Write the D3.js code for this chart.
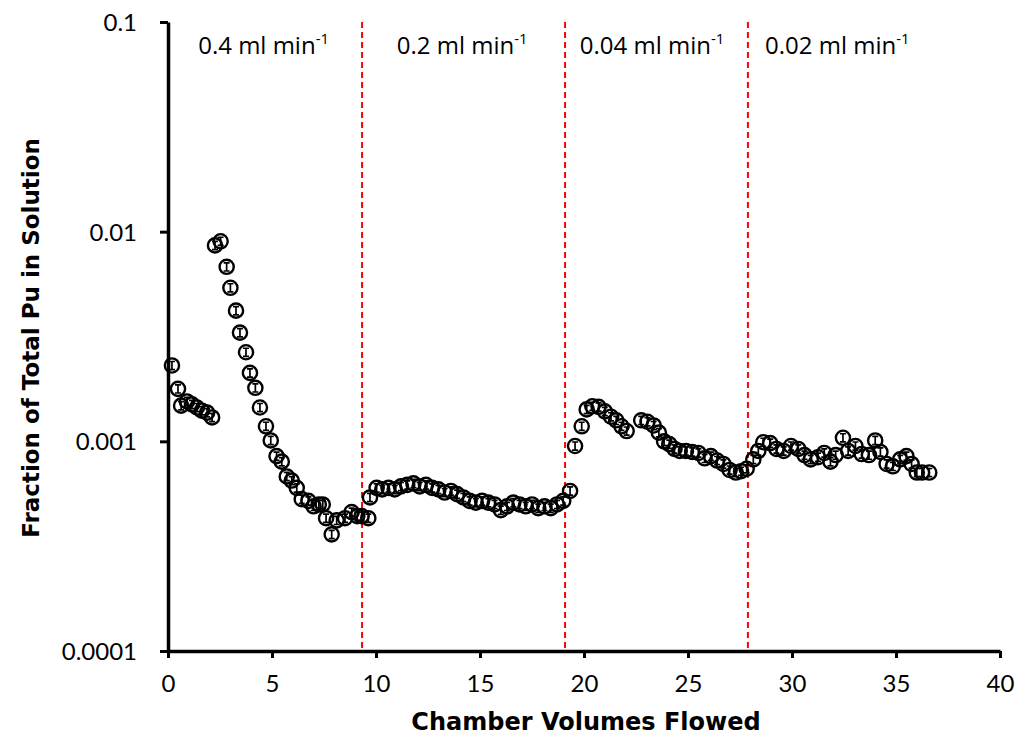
<!DOCTYPE html>
<html>
<head>
<meta charset="utf-8">
<script src="https://cdn.jsdelivr.net/npm/d3@7"></script>
<style>
	body { margin: 0; background: #fff; }
	text { fill: #000; }
</style>
</head>
<body>
<script>
// Chamber volumes flowed (x) and fraction of total Pu in solution (y)
var volumes = [
	0.19, 0.48, 0.63, 0.91, 1.15, 1.39, 1.63, 1.88, 2.12,
	2.26, 2.53, 2.82, 3.0, 3.27, 3.46, 3.75, 3.94, 4.2, 4.42, 4.71, 4.94, 5.22, 5.47, 5.71, 5.95,
	6.19, 6.43, 6.75, 7.0, 7.25, 7.44, 7.6, 7.87, 8.11, 8.51, 8.83, 9.1, 9.31, 9.63,
	9.71, 10.03, 10.3, 10.6, 10.9, 11.2, 11.5, 11.8, 12.1, 12.4, 12.7, 13.0, 13.3, 13.6, 13.9,
	14.2, 14.5, 14.8, 15.1, 15.4, 15.7, 16.0, 16.3, 16.6, 16.9, 17.2, 17.5, 17.8, 18.1, 18.4,
	18.7, 19.0, 19.33,
	19.57, 19.89, 20.13, 20.4, 20.7, 21.0, 21.3, 21.55, 21.8, 22.05,
	22.75, 23.05, 23.35, 23.6, 23.85, 24.1, 24.35, 24.6, 24.9, 25.2, 25.5, 25.8, 26.1, 26.4,
	26.7, 27.0, 27.3, 27.55, 27.82, 28.14, 28.38, 28.62, 28.95, 29.25, 29.6, 29.95, 30.3,
	30.6, 30.9, 31.25, 31.55, 31.85, 32.1, 32.45, 32.7, 33.05, 33.35, 33.7, 34.0, 34.25,
	34.55, 34.85, 35.2, 35.5, 35.75, 36.0, 36.25, 36.6
];
var fractions = [
	0.0023, 0.00178, 0.00148, 0.00155, 0.0015, 0.00145, 0.0014, 0.00137, 0.0013,
	0.0086, 0.009, 0.0068, 0.0054, 0.0042, 0.0033, 0.00266, 0.00212, 0.0018, 0.00145, 0.00118, 0.00101, 0.00085, 0.0008, 0.00068, 0.00065,
	0.0006, 0.00053, 0.00052, 0.00049, 0.0005, 0.0005, 0.00043, 0.00036, 0.00042, 0.00043, 0.00046, 0.00044, 0.00044, 0.00043,
	0.00054, 0.0006, 0.00059, 0.0006, 0.00059, 0.00061, 0.00062, 0.00063, 0.00061, 0.00062, 0.0006, 0.00059, 0.00057, 0.00058, 0.00056,
	0.00054, 0.00052, 0.00051, 0.00052, 0.00051, 0.0005, 0.00047, 0.00049, 0.00051, 0.0005, 0.00049, 0.0005, 0.00048, 0.00049, 0.00048,
	0.0005, 0.00052, 0.00058,
	0.00095, 0.00118, 0.00142, 0.00147, 0.00146, 0.00139, 0.00131, 0.00126, 0.00118, 0.00112,
	0.00126, 0.00124, 0.00119, 0.0011, 0.001, 0.00097, 0.00092, 0.0009, 0.0009, 0.00089, 0.00088, 0.00083, 0.00085, 0.00081,
	0.00078, 0.00073, 0.00071, 0.00072, 0.00074, 0.00082, 0.0009, 0.00099, 0.00098, 0.00092, 0.0009, 0.00095, 0.00092,
	0.00086, 0.00082, 0.00084, 0.00088, 0.0008, 0.00086, 0.00104, 0.0009, 0.00095, 0.00087, 0.00086, 0.00101, 0.00089,
	0.00078, 0.00076, 0.00082, 0.00085, 0.00078, 0.00071, 0.00071, 0.00071
];
// relative uncertainty shown as error bars
var relErr = 0.045;

// flow rate changes and the labels of each period
var flowChanges = [9.33, 19.09, 27.88];
var flowLabels = ["0.4", "0.2", "0.04", "0.02"];
var flowLabelX = [1.45, 11.0, 19.8, 28.7];

var xTicks = [0, 5, 10, 15, 20, 25, 30, 35, 40];
var yTicks = [0.1, 0.01, 0.001, 0.0001];

var data = volumes.map(function (v, i) {return {x: v, y: fractions[i]};});

var W = 1018, H = 738;
var plotL = 168, plotT = 22, plotR = 1000, plotB = 651;

var svg = d3.select("body").
append("svg").
attr("width", W).
attr("height", H);

var x = d3.scaleLinear().domain([0, 40]).range([plotL, plotR]);
var y = d3.scaleLog().domain([0.0001, 0.1]).range([plotB, plotT]);

// red dashed separators
svg.selectAll(".flow").
data(flowChanges).
enter().append("line").
attr("x1", function (d) {return x(d);}).
attr("x2", function (d) {return x(d);}).
attr("y1", plotT).
attr("y2", plotB).
style("stroke", "#ff0000").
style("stroke-width", 2).
style("stroke-dasharray", "6,4");

// flow rate labels
var lbl = svg.selectAll(".flowlabel").
data(flowLabels).
enter().append("text").
attr("x", function (d, i) {return x(flowLabelX[i]);}).
attr("y", 54).
style("font-family", "'Open Sans', sans-serif").
style("font-size", "24px");
lbl.append("tspan").text(function (d) {return d + " ml min";});
lbl.append("tspan").attr("dy", -10).style("font-size", "15px").text("-1");

// axes
var xAxis = d3.axisBottom(x).tickValues(xTicks).tickSize(7).tickSizeOuter(0).tickPadding(17).tickFormat(d3.format("d"));
var yAxis = d3.axisLeft(y).tickValues(yTicks).tickSize(8).tickSizeOuter(0).tickPadding(23).tickFormat(function (d) {return String(d);});

var gx = svg.append("g").
attr("transform", "translate(0," + plotB + ")").
call(xAxis);

var gy = svg.append("g").
attr("transform", "translate(" + plotL + ",0)").
call(yAxis);

[gx, gy].forEach(function (g) {
	g.select(".domain").style("stroke", "#000").style("stroke-width", 3.5);
	g.selectAll(".tick line").style("stroke", "#000").style("stroke-width", 3);
	g.selectAll(".tick text").
	style("font-family", "Lato, sans-serif").
	style("font-size", "24px").
	style("fill", "#000");
});
gy.selectAll(".tick text").attr("dy", "0.36em");

// axis titles
svg.append("text").
attr("x", 586).
attr("y", 730).
attr("text-anchor", "middle").
style("font-family", "'DejaVu Sans', sans-serif").
style("font-weight", "bold").
style("font-size", "24px").
text("Chamber Volumes Flowed");

svg.append("text").
attr("transform", "translate(39,338) rotate(-90)").
attr("text-anchor", "middle").
style("font-family", "'DejaVu Sans', sans-serif").
style("font-weight", "bold").
style("font-size", "23px").
text("Fraction of Total Pu in Solution");

// markers with error bars
var pts = svg.selectAll(".pt").
data(data).
enter().append("g").
attr("transform", function (d) {return "translate(" + x(d.x) + "," + y(d.y) + ")";});

pts.append("path").
attr("d", function (d) {
	var up = y(d.y * (1 + relErr)) - y(d.y);
	var dn = y(d.y * (1 - relErr)) - y(d.y);
	return "M0," + up + "V" + dn + "M-3," + up + "H3M-3," + dn + "H3";
}).
style("stroke", "#000").
style("stroke-width", 1.7).
style("fill", "none");

pts.append("circle").
attr("r", 7.1).
style("fill", "none").
style("stroke", "#000").
style("stroke-width", 2.4);
</script>
</body>
</html>
